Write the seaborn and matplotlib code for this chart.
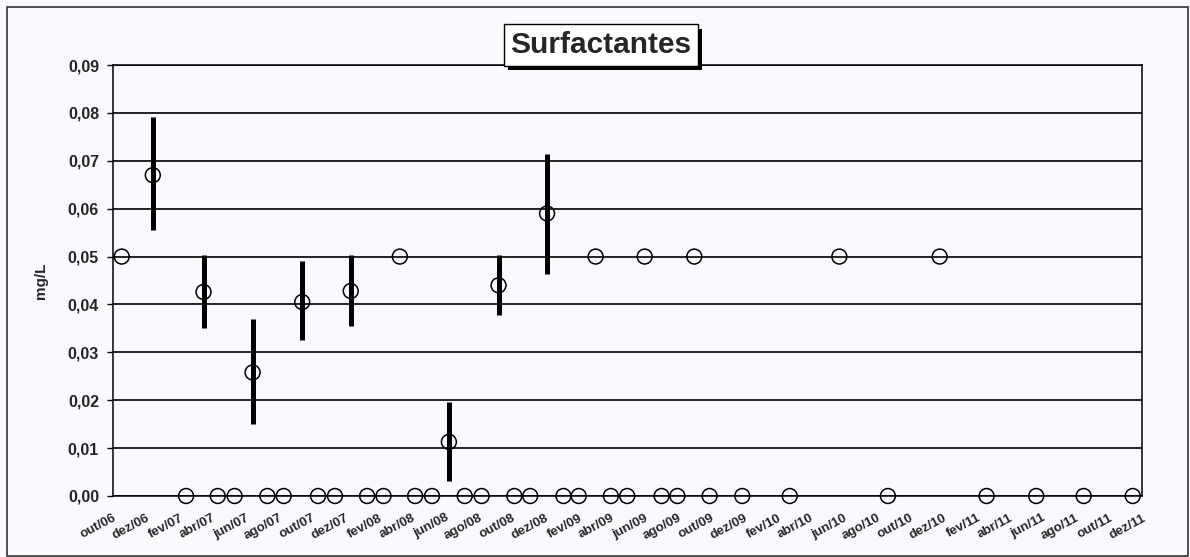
import seaborn as sns
import matplotlib.pyplot as plt
import matplotlib.patheffects as pe
from matplotlib.patches import Rectangle
from matplotlib.ticker import FuncFormatter
import pandas as pd

# Dados: datas de amostragem e valores de surfactantes (mg/L)
datas = [
    "2006-10-17", "2006-12-13", "2007-02-12", "2007-03-16", "2007-04-11",
    "2007-05-12", "2007-06-14", "2007-07-11", "2007-08-10", "2007-09-13",
    "2007-10-12", "2007-11-12", "2007-12-11", "2008-01-10", "2008-02-09",
    "2008-03-10", "2008-04-07", "2008-05-08", "2008-06-08", "2008-07-07",
    "2008-08-07", "2008-09-07", "2008-10-06", "2008-11-04", "2008-12-05",
    "2009-01-04", "2009-02-01", "2009-03-04", "2009-04-01", "2009-05-01",
    "2009-06-02", "2009-07-03", "2009-08-01", "2009-09-01", "2009-09-29",
    "2009-11-28", "2010-02-23", "2010-05-25", "2010-08-22", "2010-11-25",
    "2011-02-19", "2011-05-21", "2011-08-16", "2011-11-14",
]
valores = [
    0.050, 0.067, 0.0, 0.0426, 0.0,
    0.0, 0.0258, 0.0, 0.0, 0.0405,
    0.0, 0.0, 0.0428, 0.0, 0.0,
    0.050, 0.0, 0.0, 0.0113, 0.0,
    0.0, 0.044, 0.0, 0.0, 0.059,
    0.0, 0.0, 0.050, 0.0, 0.0,
    0.050, 0.0, 0.0, 0.050, 0.0,
    0.0, 0.0, 0.050, 0.0, 0.050,
    0.0, 0.0, 0.0, 0.0,
]

# Barras de variação (mínimo / máximo)
datas_barra = ["2006-12-13", "2007-03-16", "2007-06-14", "2007-09-13",
               "2007-12-11", "2008-06-08", "2008-09-07", "2008-12-05"]
media = [0.067, 0.0426, 0.0258, 0.0405, 0.0428, 0.0113, 0.044, 0.059]
minimo = [0.0555, 0.035, 0.0151, 0.0325, 0.0356, 0.0032, 0.0378, 0.0464]
maximo = [0.0791, 0.0503, 0.037, 0.049, 0.0503, 0.0196, 0.0503, 0.0715]

meses = ["out/06", "dez/06", "fev/07", "abr/07", "jun/07", "ago/07", "out/07", "dez/07",
         "fev/08", "abr/08", "jun/08", "ago/08", "out/08", "dez/08", "fev/09", "abr/09",
         "jun/09", "ago/09", "out/09", "dez/09", "fev/10", "abr/10", "jun/10", "ago/10",
         "out/10", "dez/10", "fev/11", "abr/11", "jun/11", "ago/11", "out/11", "dez/11"]

sns.set_theme(style="white")
plt.rcParams["font.family"] = ["Liberation Sans", "DejaVu Sans"]
plt.rcParams["font.weight"] = "bold"

bg = "#f9fafd"
fig = plt.figure(figsize=(11.9, 5.57), dpi=100, facecolor=bg)
ax = fig.add_axes([113 / 1190, 1 - 496 / 557, (1142 - 113) / 1190, (496 - 65) / 557])
ax.set_facecolor(bg)

df = pd.DataFrame({"data": pd.to_datetime(datas), "valor": valores})
barras = pd.DataFrame({"data": pd.to_datetime(datas_barra), "media": media,
                       "minimo": minimo, "maximo": maximo})

ax.vlines(barras["data"], barras["minimo"], barras["maximo"], color="black",
          linewidth=3.6, zorder=3)
sns.scatterplot(data=df, x="data", y="valor", ax=ax, marker="o", s=115,
                facecolor="none", edgecolor="black", linewidth=1.1,
                zorder=4, clip_on=False, legend=False)

ticks = pd.date_range("2006-10-01", "2011-12-01", freq="2MS")
ax.set_xlim(ticks[0], ticks[-1])
ax.set_xticks(ticks)
ax.set_xticklabels(meses, rotation=28, ha="right", va="top", rotation_mode="anchor",
                   fontsize=9.5, fontweight="bold")
ax.set_ylim(0, 0.09)
ax.set_yticks([i / 100 for i in range(10)])
ax.yaxis.set_major_formatter(FuncFormatter(lambda v, p: f"{v:.2f}".replace(".", ",")))
for lab in ax.get_yticklabels():
    lab.set_fontsize(11.5)
    lab.set_fontweight("bold")

ax.grid(axis="y", color="black", linewidth=1.2)
ax.grid(axis="x", visible=False)
ax.set_axisbelow(True)
for s in ax.spines.values():
    s.set_color("black")
    s.set_linewidth(1.1)
ax.tick_params(axis="x", direction="inout", length=7, width=1, color="black", pad=8)
ax.tick_params(axis="y", direction="out", length=4, width=1, color="black", pad=6,
               left=True)

ax.set_xlabel("")
ax.set_ylabel("mg/L", fontsize=11, fontweight="bold", labelpad=14)

t = fig.text(601 / 1190, 1 - 45 / 557, "Surfactantes", fontsize=21.5, fontweight="bold",
             ha="center", va="center",
             bbox=dict(boxstyle="square,pad=0.22", fc="white", ec="black", lw=1.0))
t.get_bbox_patch().set_path_effects([
    pe.SimplePatchShadow(offset=(3, -3), shadow_rgbFace="black", alpha=1.0),
    pe.Normal()])

fig.patches.append(Rectangle((7 / 1190, 0.002), 1181 / 1190, 1 - 7 / 557 - 0.002,
                             transform=fig.transFigure, fill=False,
                             edgecolor="#333333", linewidth=1.2))

fig.savefig("out.png", dpi=100, facecolor=bg)
plt.close(fig)
